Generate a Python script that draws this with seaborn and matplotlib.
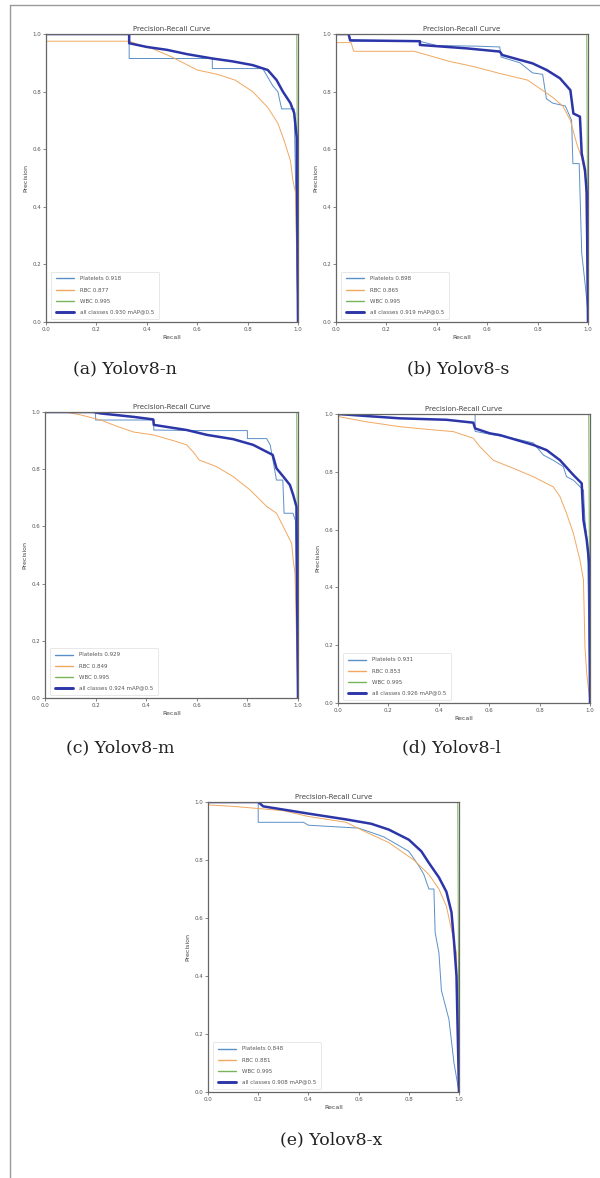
import matplotlib
matplotlib.use("Agg")
import matplotlib.pyplot as plt
from matplotlib.lines import Line2D
import seaborn as sns
import pandas as pd

# ---------------- data ----------------
CLASSES = ["Platelets", "RBC", "WBC", "all classes"]
CAPTIONS = ["(a) Yolov8-n", "(b) Yolov8-s", "(c) Yolov8-m", "(d) Yolov8-l", "(e) Yolov8-x"]
AP_A = [0.918, 0.877, 0.995, 0.930]
AP_B = [0.898, 0.865, 0.995, 0.919]
AP_C = [0.929, 0.849, 0.995, 0.924]
AP_D = [0.931, 0.853, 0.995, 0.926]
AP_E = [0.848, 0.881, 0.995, 0.908]

# panel (a)
A_PLT_R = [0, 0.33, 0.33, 0.66, 0.66, 0.86, 0.88, 0.90, 0.92, 0.935, 0.985, 0.99, 1.0]
A_PLT_P = [1.0, 1.0, 0.915, 0.915, 0.88, 0.88, 0.85, 0.82, 0.80, 0.74, 0.74, 0.50, 0.0]
A_RBC_R = [0, 0.33, 0.36, 0.42, 0.50, 0.60, 0.68, 0.75, 0.82, 0.88, 0.92, 0.945, 0.97, 0.98, 0.99, 1.0]
A_RBC_P = [0.975, 0.975, 0.965, 0.95, 0.92, 0.875, 0.86, 0.84, 0.80, 0.745, 0.69, 0.63, 0.56, 0.49, 0.45, 0.0]
A_WBC_R = [0, 0.995, 1.0]
A_WBC_P = [1.0, 1.0, 0.0]
A_ALL_R = [0, 0.33, 0.33, 0.40, 0.48, 0.56, 0.66, 0.74, 0.82, 0.88, 0.915, 0.94, 0.97, 0.985, 0.995, 1.0]
A_ALL_P = [1.0, 1.0, 0.968, 0.955, 0.945, 0.93, 0.915, 0.905, 0.892, 0.875, 0.84, 0.80, 0.76, 0.725, 0.64, 0.0]

# panel (b)
B_PLT_R = [0, 0.05, 0.06, 0.33, 0.40, 0.55, 0.65, 0.655, 0.73, 0.78, 0.82, 0.835, 0.86, 0.91, 0.935, 0.94, 0.965, 0.975, 0.99, 1.0]
B_PLT_P = [1.0, 1.0, 0.975, 0.975, 0.96, 0.958, 0.955, 0.92, 0.90, 0.865, 0.86, 0.775, 0.76, 0.75, 0.70, 0.55, 0.55, 0.24, 0.12, 0.03]
B_RBC_R = [0, 0.06, 0.07, 0.31, 0.39, 0.45, 0.545, 0.65, 0.76, 0.81, 0.86, 0.90, 0.93, 0.955, 0.975, 0.99, 1.0]
B_RBC_P = [0.97, 0.97, 0.94, 0.94, 0.92, 0.905, 0.887, 0.863, 0.84, 0.81, 0.78, 0.75, 0.70, 0.62, 0.57, 0.50, 0.0]
B_WBC_R = [0, 0.995, 1.0]
B_WBC_P = [1.0, 1.0, 0.0]
B_ALL_R = [0, 0.05, 0.056, 0.333, 0.333, 0.52, 0.65, 0.66, 0.73, 0.78, 0.836, 0.889, 0.93, 0.942, 0.968, 0.975, 0.988, 0.995, 1.0]
B_ALL_P = [1.0, 1.0, 0.978, 0.975, 0.962, 0.95, 0.939, 0.927, 0.91, 0.898, 0.875, 0.846, 0.805, 0.724, 0.713, 0.585, 0.528, 0.447, 0.0]

# panel (c)
C_PLT_R = [0, 0.20, 0.20, 0.43, 0.43, 0.60, 0.80, 0.80, 0.876, 0.89, 0.915, 0.94, 0.945, 0.98, 0.99, 1.0]
C_PLT_P = [1.0, 1.0, 0.972, 0.972, 0.937, 0.935, 0.935, 0.907, 0.907, 0.885, 0.762, 0.762, 0.646, 0.646, 0.62, 0.0]
C_RBC_R = [0, 0.08, 0.14, 0.22, 0.284, 0.35, 0.428, 0.507, 0.56, 0.586, 0.61, 0.678, 0.744, 0.81, 0.876, 0.915, 0.955, 0.975, 0.981, 0.988, 1.0]
C_RBC_P = [1.0, 1.0, 0.99, 0.972, 0.95, 0.93, 0.92, 0.90, 0.885, 0.86, 0.832, 0.809, 0.774, 0.728, 0.67, 0.646, 0.576, 0.54, 0.483, 0.436, 0.0]
C_WBC_R = [0, 0.995, 1.0]
C_WBC_P = [1.0, 1.0, 0.0]
C_ALL_R = [0, 0.19, 0.22, 0.35, 0.428, 0.43, 0.56, 0.64, 0.744, 0.823, 0.90, 0.915, 0.942, 0.968, 0.981, 0.994, 0.996, 1.0]
C_ALL_P = [1.0, 1.0, 0.995, 0.983, 0.974, 0.955, 0.937, 0.92, 0.905, 0.885, 0.85, 0.803, 0.774, 0.745, 0.71, 0.669, 0.413, 0.0]

# panel (d)
D_PLT_R = [0, 0.544, 0.544, 0.603, 0.70, 0.775, 0.815, 0.854, 0.894, 0.907, 0.934, 0.974, 0.98, 0.99, 1.0]
D_PLT_P = [1.0, 1.0, 0.94, 0.93, 0.915, 0.90, 0.858, 0.84, 0.818, 0.783, 0.771, 0.737, 0.63, 0.55, 0.0]
D_RBC_R = [0, 0.008, 0.113, 0.246, 0.378, 0.458, 0.537, 0.563, 0.616, 0.696, 0.775, 0.854, 0.881, 0.907, 0.934, 0.96, 0.974, 0.98, 0.987, 1.0]
D_RBC_P = [1.0, 0.99, 0.973, 0.956, 0.945, 0.939, 0.916, 0.887, 0.84, 0.812, 0.783, 0.748, 0.714, 0.656, 0.587, 0.495, 0.426, 0.195, 0.103, 0.0]
D_WBC_R = [0, 0.995, 1.0]
D_WBC_P = [1.0, 1.0, 0.0]
D_ALL_R = [0, 0.113, 0.246, 0.43, 0.537, 0.544, 0.603, 0.643, 0.709, 0.775, 0.828, 0.881, 0.934, 0.967, 0.974, 0.987, 0.997, 1.0]
D_ALL_P = [1.0, 0.993, 0.985, 0.98, 0.97, 0.95, 0.933, 0.927, 0.91, 0.893, 0.875, 0.84, 0.789, 0.76, 0.633, 0.564, 0.484, 0.0]

# panel (e)
E_PLT_R = [0, 0.20, 0.20, 0.38, 0.40, 0.60, 0.70, 0.80, 0.84, 0.86, 0.88, 0.90, 0.905, 0.92, 0.93, 0.96, 0.98, 1.0]
E_PLT_P = [1.0, 1.0, 0.93, 0.93, 0.92, 0.91, 0.88, 0.83, 0.78, 0.75, 0.70, 0.70, 0.55, 0.48, 0.35, 0.25, 0.10, 0.0]
E_RBC_R = [0, 0.1, 0.3, 0.4, 0.55, 0.62, 0.72, 0.82, 0.88, 0.92, 0.95, 0.97, 0.99, 1.0]
E_RBC_P = [0.99, 0.985, 0.97, 0.95, 0.93, 0.90, 0.86, 0.80, 0.75, 0.70, 0.64, 0.56, 0.48, 0.0]
E_WBC_R = [0, 0.995, 1.0]
E_WBC_P = [1.0, 1.0, 0.0]
E_ALL_R = [0, 0.20, 0.22, 0.40, 0.55, 0.65, 0.72, 0.80, 0.85, 0.88, 0.92, 0.95, 0.97, 0.98, 0.99, 1.0]
E_ALL_P = [1.0, 1.0, 0.985, 0.96, 0.94, 0.925, 0.905, 0.87, 0.83, 0.79, 0.74, 0.69, 0.62, 0.52, 0.40, 0.0]

TICKS = [0.0, 0.2, 0.4, 0.6, 0.8, 1.0]
TICK_LABELS = ["0.0", "0.2", "0.4", "0.6", "0.8", "1.0"]

PANELS = [
    (AP_A, [(A_PLT_R, A_PLT_P), (A_RBC_R, A_RBC_P), (A_WBC_R, A_WBC_P), (A_ALL_R, A_ALL_P)]),
    (AP_B, [(B_PLT_R, B_PLT_P), (B_RBC_R, B_RBC_P), (B_WBC_R, B_WBC_P), (B_ALL_R, B_ALL_P)]),
    (AP_C, [(C_PLT_R, C_PLT_P), (C_RBC_R, C_RBC_P), (C_WBC_R, C_WBC_P), (C_ALL_R, C_ALL_P)]),
    (AP_D, [(D_PLT_R, D_PLT_P), (D_RBC_R, D_RBC_P), (D_WBC_R, D_WBC_P), (D_ALL_R, D_ALL_P)]),
    (AP_E, [(E_PLT_R, E_PLT_P), (E_RBC_R, E_RBC_P), (E_WBC_R, E_WBC_P), (E_ALL_R, E_ALL_P)]),
]

# ---------------- layout (pixels) ----------------
W, H = 600, 1178
BOXES = [(46, 298, 34, 322), (336, 588, 34, 322), (45, 298, 412, 698),
         (338, 590, 414, 703), (208, 459, 802, 1092)]
CAP_POS = [(125, 369), (458, 369), (120, 748), (451, 748), (331, 1140)]

COLORS = ["#5b8fc7", "#f0a860", "#79b35a", "#2c36a8"]
WIDTHS = [0.7, 0.7, 0.7, 1.8]

sns.set_theme(style="ticks")
plt.rcParams["font.family"] = ["DejaVu Sans"]

fig = plt.figure(figsize=(W / 100, H / 100), dpi=100)
fig.patch.set_facecolor("white")

for (ap, series), (l, r, t, b), cap, cpos in zip(PANELS, BOXES, CAPTIONS, CAP_POS):
    ax = fig.add_axes([l / W, 1 - b / H, (r - l) / W, (b - t) / H])
    for i, (name, (rx, py)) in enumerate(zip(CLASSES, series)):
        df = pd.DataFrame({"Recall": rx, "Precision": py})
        sns.lineplot(data=df, x="Recall", y="Precision", ax=ax, sort=False,
                     estimator=None, color=COLORS[i], linewidth=WIDTHS[i],
                     legend=False)
    ax.set_xlim(0, 1)
    ax.set_ylim(0, 1)
    ax.set_xticks(TICKS)
    ax.set_xticklabels(TICK_LABELS)
    ax.set_yticks(TICKS)
    ax.set_yticklabels(TICK_LABELS)
    ax.tick_params(labelsize=4, length=2, width=0.5, pad=1.5, colors="#555555")
    ax.set_xlabel("Recall", fontsize=4.5, labelpad=2, color="#444444")
    ax.set_ylabel("Precision", fontsize=4.5, labelpad=3, color="#444444")
    ax.set_title("Precision-Recall Curve", fontsize=5, pad=2, color="#444444")
    for sp in ax.spines.values():
        sp.set_linewidth(0.9)
        sp.set_color("#666666")
    handles = [Line2D([], [], color=COLORS[i], linewidth=WIDTHS[i] + 0.3) for i in range(4)]
    labels = [f"{CLASSES[i]} {ap[i]:.3f}" for i in range(3)] + [f"{CLASSES[3]} {ap[3]:.3f} mAP@0.5"]
    leg = ax.legend(handles, labels, loc="lower left", fontsize=4, frameon=True,
                    labelspacing=1.1, handlelength=3.2, borderpad=0.8,
                    handletextpad=1.2, bbox_to_anchor=(0.01, 0.0))
    leg.get_frame().set_linewidth(0.4)
    leg.get_frame().set_edgecolor("#cccccc")
    for txt in leg.get_texts():
        txt.set_color("#555555")
    fig.text(cpos[0] / W, 1 - cpos[1] / H, cap, fontsize=12.5,
             family="DejaVu Serif", ha="center", va="center", color="#222222")

# page border lines
fig.add_artist(Line2D([10 / W, 1.0], [1 - 5 / H, 1 - 5 / H], color="#9a9a9a", linewidth=1.0))
fig.add_artist(Line2D([10 / W, 10 / W], [0.0, 1 - 5 / H], color="#9a9a9a", linewidth=1.0))

fig.savefig("out.png", dpi=100, facecolor="white")
